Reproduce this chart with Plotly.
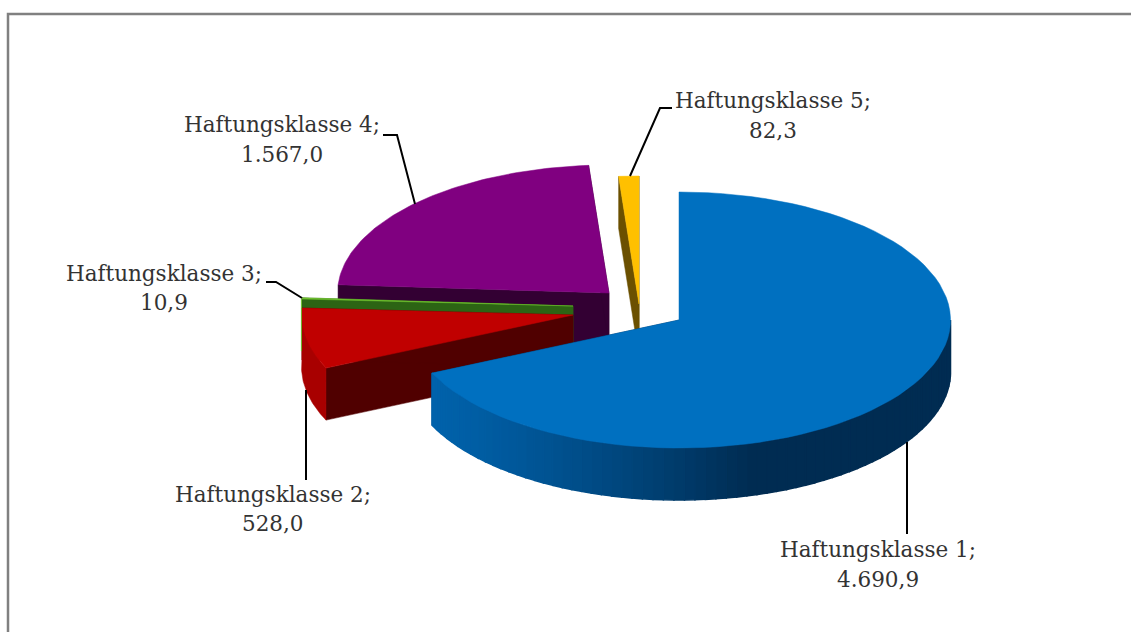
import math
import plotly.graph_objects as go

# ---- chart data ----
categories = ["Haftungsklasse 1", "Haftungsklasse 2", "Haftungsklasse 3",
              "Haftungsklasse 4", "Haftungsklasse 5"]
values = [4690.9, 528.0, 10.9, 1567.0, 82.3]
value_labels = ["4.690,9", "528,0", "10,9", "1.567,0", "82,3"]

# ---- styling / projection ----
top_colors = ["#0070C0", "#C00000", "#6FC02F", "#800080", "#FFC000"]
wall_colors = ["#002A4F", "#500000", "#2C6414", "#330033", "#6B5000"]
rim_colors = [None, "#A80000", "#6FC02F", "#5A005A", "#6B5000"]
centers_x = [679, 573, 573, 609, 639]
centers_y = [320, 315, 306, 293, 304]
RX, RY, DEPTH = 271.5, 128, 52
draw_order = [3, 4, 2, 1, 0]

label_x = [878, 273, 164, 282, 773]
label_y1 = [549, 494, 273, 124, 100]
label_y2 = [579, 523, 302, 154, 130]
leaders = [
    ([907, 907], [442, 534]),
    ([306, 306], [390, 480]),
    ([302, 276, 266], [298, 282, 282]),
    ([415, 397, 383], [204, 135, 135]),
    ([630, 660, 672], [176, 108, 108]),
]

total = sum(values)
angles = []
acc = 0.0
for v in values:
    angles.append((acc, acc + v / total * 360))
    acc += v / total * 360


def pt(cx, cy, deg, dz=0):
    r = math.radians(deg)
    return cx + RX * math.sin(r), cy - RY * math.cos(r) + dz


def arc(cx, cy, a0, a1, dz=0, n=80):
    pts = [pt(cx, cy, a0 + (a1 - a0) * i / n, dz) for i in range(n + 1)]
    return [p[0] for p in pts], [p[1] for p in pts]


def mix(c0, c1, t):
    t = max(0.0, min(1.0, t))
    a = [int(c0[i:i + 2], 16) for i in (1, 3, 5)]
    b = [int(c1[i:i + 2], 16) for i in (1, 3, 5)]
    return "rgb({},{},{})".format(*[round(x + (y - x) * t) for x, y in zip(a, b)])


fig = go.Figure()


def poly(xs, ys, color, name, line=0.5):
    fig.add_trace(go.Scatter(
        x=list(xs) + [xs[0]], y=list(ys) + [ys[0]], mode="lines", fill="toself",
        fillcolor=color, line=dict(color=color, width=line), hoverinfo="text",
        text=name, showlegend=False))


for i in draw_order:
    cx, cy = centers_x[i], centers_y[i]
    a0, a1 = angles[i]
    name = f"{categories[i]}; {value_labels[i]}"
    # radial wall under the slice's trailing edge (and leading edge for thin slices)
    for ang in (a0, a1):
        if i == 0 and ang == a0:
            continue
        px, py = pt(cx, cy, ang)
        poly([px, cx, cx, px], [py, cy, cy + DEPTH, py + DEPTH], wall_colors[i], name)
    # outer rim wall
    if i == 0:
        lo, hi = 90.0, a1
        n = 70
        for k in range(n):
            s0 = lo + (hi - lo) * k / n
            s1 = lo + (hi - lo) * (k + 1) / n
            ux, uy = arc(cx, cy, s0, s1, 0, 3)
            lx, ly = arc(cx, cy, s0, s1, DEPTH, 3)
            mx = cx + RX * math.sin(math.radians((s0 + s1) / 2))
            t = max(0.0, (mx - 431) / (750 - 431)) ** 1.25
            c = mix("#0062AB", "#002C52", t)
            poly(ux + lx[::-1], uy + ly[::-1], c, name, 1.5)
    elif i == 1:
        ux, uy = arc(cx, cy, a0, a1, 0)
        lx, ly = arc(cx, cy, a0, a1, DEPTH)
        poly(ux + lx[::-1], uy + ly[::-1], rim_colors[i], name)
    # top face
    ux, uy = arc(cx, cy, a0, a1, 0)
    poly(ux + [cx], uy + [cy], top_colors[i], name)

# thin bright rim of the smallest slice
gx, gy = pt(centers_x[2], centers_y[2], angles[2][0])
fig.add_trace(go.Scatter(x=[gx - 0.5, gx - 0.5], y=[gy, gy + DEPTH], mode="lines",
                         line=dict(color=rim_colors[2], width=1),
                         hoverinfo="skip", showlegend=False))

# leader lines
for lx, ly in leaders:
    fig.add_trace(go.Scatter(x=lx, y=ly, mode="lines", line=dict(color="#000000", width=2),
                             hoverinfo="skip", showlegend=False))

# labels
for i in range(len(categories)):
    for txt, yy in ((f"{categories[i]};", label_y1[i]), (value_labels[i], label_y2[i])):
        fig.add_annotation(x=label_x[i], y=yy, xref="x", yref="y", text=txt,
                           showarrow=False, xanchor="center", yanchor="middle",
                           font=dict(family="DejaVu Serif", size=21.5, color="#333333"))

# outer chart frame (open on the right and bottom)
fig.add_shape(type="path", path="M 8 632 L 8 14 L 1131 14",
              xref="x", yref="y", line=dict(color="#808080", width=2.5))

fig.update_xaxes(range=[0, 1131], visible=False, fixedrange=True)
fig.update_yaxes(range=[632, 0], visible=False, fixedrange=True)
fig.update_layout(width=1131, height=632, margin=dict(l=0, r=0, t=0, b=0),
                  paper_bgcolor="white", plot_bgcolor="white", showlegend=False)
fig.write_html("out.html", config={"displayModeBar": False},
               post_script="document.body.style.margin='0';document.documentElement.style.overflow='hidden';")
